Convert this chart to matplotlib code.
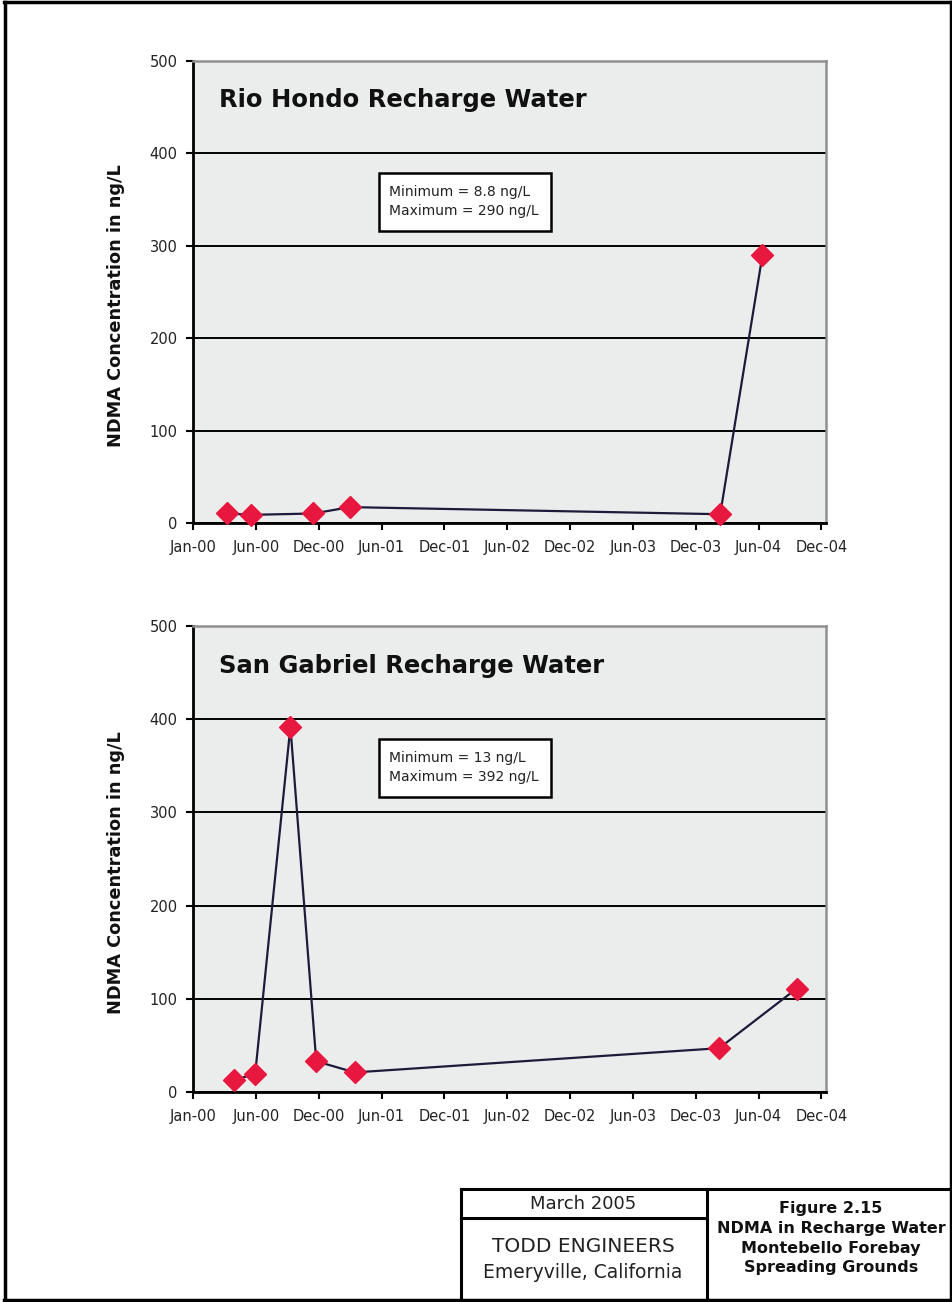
import matplotlib
matplotlib.use("Agg")
import matplotlib.pyplot as plt
import matplotlib.dates as mdates
from matplotlib.patches import Rectangle
from matplotlib.lines import Line2D
import numpy as np

# NDMA sampling results (ng/L)
rio_dates = ["2000-04-06", "2000-06-14", "2000-12-11", "2001-03-26",
             "2004-02-19", "2004-06-19"]
rio_values = [10.5, 8.8, 10.3, 17.2, 9.5, 290]

sg_dates = ["2000-04-26", "2000-06-27", "2000-10-06", "2000-12-19",
            "2001-04-08", "2004-02-16", "2004-09-25"]
sg_values = [13, 19, 392, 33, 21, 47, 111]

panel_titles = ["Rio Hondo Recharge Water", "San Gabriel Recharge Water"]
panel_stats = [("Minimum = 8.8 ng/L", "Maximum = 290 ng/L"),
               ("Minimum = 13 ng/L", "Maximum = 392 ng/L")]
y_ticks = [0, 100, 200, 300, 400, 500]
y_label = "NDMA Concentration in ng/L"

axis_start = "2000-01-01"
axis_end = "2004-12-18"
axis_step_days = 180
axis_steps = 10

footer_date = "March 2005"
footer_company = ["TODD ENGINEERS", "Emeryville, California"]
footer_figure = ["Figure 2.15", "NDMA in Recharge Water",
                 "Montebello Forebay", "Spreading Grounds"]

plt.rcParams["font.family"] = ["DejaVu Sans"]

W, H = 953, 1302
fig = plt.figure(figsize=(W / 100, H / 100), dpi=100)
fig.patch.set_facecolor("white")


def fx(px):
    return px / W


def fy(py):
    return 1 - py / H


# axes placement (pixel bounds: left, right, top, bottom)
panels = [(193, 826, 61, 523), (193, 826, 626, 1092)]
series = [(rio_dates, rio_values), (sg_dates, sg_values)]

x0 = mdates.date2num(np.datetime64(axis_start))
x1 = mdates.date2num(np.datetime64(axis_end))
xticks = x0 + np.arange(axis_steps + 1) * axis_step_days

for (l, r, t, b), (dates, vals), title, stats in zip(panels, series, panel_titles, panel_stats):
    ax = fig.add_axes([fx(l), fy(b), (r - l) / W, (b - t) / H])
    ax.set_facecolor("#eaedec")
    xd = mdates.date2num(np.array(dates, dtype="datetime64[D]"))
    ax.plot(xd, vals, color="#1c1c3a", lw=1.6, zorder=3,
            marker="D", markersize=11, markerfacecolor="#e8173f",
            markeredgecolor="#e8173f", clip_on=False)
    ax.set_xlim(x0, x1)
    ax.set_ylim(0, 500)
    ax.set_yticks(y_ticks)
    ax.set_xticks(xticks)
    ax.xaxis.set_major_formatter(mdates.DateFormatter("%b-%y"))
    ax.yaxis.grid(True, color="black", lw=1.4, zorder=1)
    ax.set_axisbelow(True)
    ax.tick_params(axis="both", direction="out", length=5, width=1.5,
                   labelsize=10.5, colors="black", labelcolor="#222222")
    ax.tick_params(axis="x", pad=7)
    ax.tick_params(axis="y", pad=6)
    for s in ("top", "right"):
        ax.spines[s].set_color("#909090")
        ax.spines[s].set_linewidth(1.8)
    for s in ("left", "bottom"):
        ax.spines[s].set_color("black")
        ax.spines[s].set_linewidth(2.0)
    ax.text(0.041, 0.915, title, transform=ax.transAxes, fontsize=17.5,
            fontweight="bold", color="#111111", va="center", ha="left")
    # summary statistics box
    ax.add_patch(Rectangle((0.294, 0.633), 0.2715, 0.125, transform=ax.transAxes,
                           facecolor="white", edgecolor="black", lw=1.8, zorder=4))
    ax.text(0.31, 0.716, stats[0], transform=ax.transAxes, fontsize=10,
            va="center", ha="left", color="#222222", zorder=5)
    ax.text(0.31, 0.676, stats[1], transform=ax.transAxes, fontsize=10,
            va="center", ha="left", color="#222222", zorder=5)
    fig.text(fx(116), fy((t + b) / 2 + 14), y_label, rotation=90, fontsize=12.8,
             fontweight="bold", ha="center", va="center", color="#111111")


def hline(x1, x2, y, lw=2.2):
    fig.add_artist(Line2D([fx(x1), fx(x2)], [fy(y), fy(y)], color="black", lw=lw,
                          transform=fig.transFigure))


def vline(x, y1, y2, lw=2.2):
    fig.add_artist(Line2D([fx(x), fx(x)], [fy(y1), fy(y2)], color="black", lw=lw,
                          transform=fig.transFigure))


# page border
hline(4, 952, 2, lw=2.5)
hline(4, 952, 1300, lw=2.5)
vline(5, 2, 1300, lw=2.5)
vline(951, 2, 1300, lw=2.5)

# title block
hline(461, 951, 1189)
hline(461, 707, 1218)
vline(461, 1189, 1300)
vline(707, 1189, 1300)

fig.text(fx(583), fy(1204), footer_date, fontsize=13, ha="center", va="center",
         color="#222222")
fig.text(fx(583), fy(1246), footer_company[0], fontsize=14.5, ha="center",
         va="center", color="#222222")
fig.text(fx(583), fy(1272), footer_company[1], fontsize=13.5, ha="center",
         va="center", color="#222222")
for i, line in enumerate(footer_figure):
    fig.text(fx(831), fy(1209 + 19.5 * i), line, fontsize=11.5, fontweight="bold",
             ha="center", va="center", color="#111111")

fig.savefig("out.png", dpi=100)
